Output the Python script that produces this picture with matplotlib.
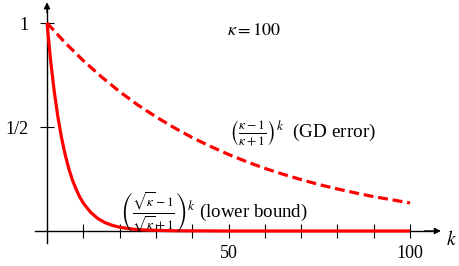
import matplotlib
matplotlib.use("Agg")
import matplotlib.pyplot as plt

plt.rcParams['font.family'] = ['Liberation Serif', 'DejaVu Serif']
plt.rcParams['mathtext.fontset'] = 'stix'

# GD error curve ((kappa-1)/(kappa+1))^k, kappa = 100
gd_k = [0, 5, 10, 15, 20, 25, 30, 35, 40, 45, 50, 55, 60, 65, 70, 75, 80, 85, 90, 95, 100]
gd_err = [1.0, 0.905, 0.819, 0.741, 0.670, 0.606, 0.549, 0.497, 0.449, 0.407, 0.368,
          0.333, 0.301, 0.273, 0.247, 0.223, 0.202, 0.183, 0.165, 0.150, 0.135]

# lower bound curve ((sqrt(kappa)-1)/(sqrt(kappa)+1))^k
lb_k = [0, 1, 2, 3, 4, 5, 6, 7, 8, 9, 10, 12, 14, 16, 18, 20, 24, 28, 35, 50, 100]
lb_val = [1.0, 0.818, 0.669, 0.548, 0.448, 0.367, 0.300, 0.245, 0.201, 0.164, 0.134,
          0.090, 0.060, 0.040, 0.027, 0.018, 0.008, 0.004, 0.001, 0.0, 0.0]

x_ticks = [10, 20, 30, 40, 50, 60, 70, 80, 90, 100]
x_tick_labels = ['', '', '', '', '50', '', '', '', '', '100']
y_ticks = [0.5, 1.0]
y_tick_labels = ['1/2', '1']

fig = plt.figure(figsize=(4.59, 2.66), dpi=100)
ax = fig.add_axes([0.0629, 0.0534, 0.9254, 0.9383])
ax.set_xlim(-5, 112)
ax.set_ylim(-0.1, 1.1)

red = '#ff0000'
ax.plot(gd_k, gd_err, color=red, lw=2.3, dashes=(3.1, 1.5), solid_capstyle='butt', zorder=3)
ax.plot(lb_k, lb_val, color=red, lw=2.3, solid_joinstyle='round', solid_capstyle='butt', zorder=3)

for s in ['top', 'right']:
    ax.spines[s].set_visible(False)
ax.spines['left'].set_position(('data', 0))
ax.spines['bottom'].set_position(('data', 0))
ax.spines['left'].set_bounds(-0.06, 1.07)
ax.spines['bottom'].set_bounds(-3.3, 106)
for s in ['left', 'bottom']:
    ax.spines[s].set_linewidth(1.0)

ax.annotate('', xy=(108.5, 0), xytext=(104, 0),
            arrowprops=dict(arrowstyle='-|>', lw=1.0, color='k', mutation_scale=9, shrinkA=0, shrinkB=0))
ax.annotate('', xy=(0, 1.1), xytext=(0, 1.05),
            arrowprops=dict(arrowstyle='-|>', lw=1.0, color='k', mutation_scale=9, shrinkA=0, shrinkB=0))

ax.set_xticks(x_ticks)
ax.set_xticklabels(x_tick_labels)
ax.set_yticks(y_ticks)
ax.set_yticklabels(y_tick_labels)
ax.tick_params(axis='both', direction='inout', length=10, width=0.8, labelsize=13)
ax.tick_params(axis='x', pad=5)
ax.tick_params(axis='y', pad=8)

ax.text(111.5, -0.043, '$k$', fontsize=14, ha='center', va='center')
ax.text(49.5, 0.966, r'$\kappa = 100$', fontsize=13, ha='left', va='center')
ax.text(50, 0.47, r'$\left(\frac{\kappa-1}{\kappa+1}\right)^k$  (GD error)', fontsize=13.8,
        ha='left', va='center')
ax.text(20, 0.09, r'$\left(\frac{\sqrt{\kappa}-1}{\sqrt{\kappa}+1}\right)^k$ (lower bound)', fontsize=13.6,
        ha='left', va='center')

fig.savefig('out.png', dpi=100)
